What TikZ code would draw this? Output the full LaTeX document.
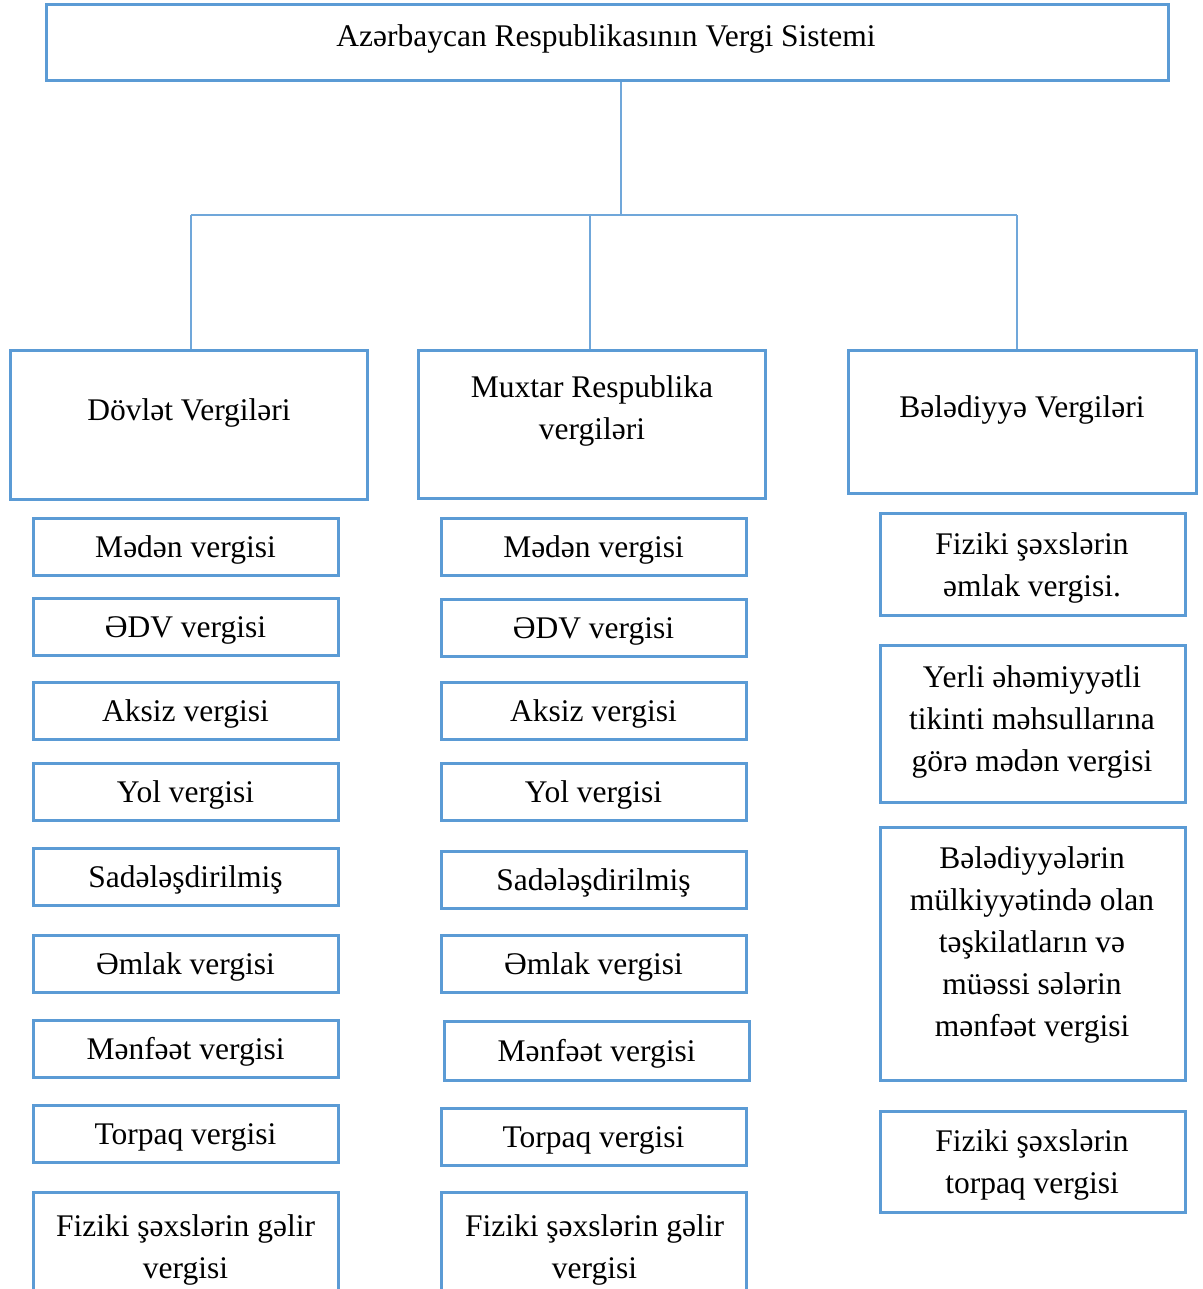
\documentclass[tikz,border=0pt]{standalone}
\usepackage{fontspec}
\setmainfont{Liberation Serif}
\definecolor{boxblue}{HTML}{5B9BD5}
\definecolor{lineblue}{HTML}{70A7DA}
\begin{document}
\begin{tikzpicture}[x=1pt,y=-1pt,
  box/.style={draw=boxblue, line width=3pt, rectangle, inner sep=0pt, align=center,
    text height=27pt, text depth=6pt,
    font=\fontsize{31.5}{42}\selectfont},
  lbl/.style={inner sep=0pt, align=center, font=\fontsize{31.5}{42}\selectfont},
  conn/.style={draw=lineblue, line width=2pt}]
\useasboundingbox (0,0) rectangle (1202,1289);
\clip (0,0) rectangle (1202,1289);
% top
\node[box, minimum width=1122pt, minimum height=76pt] (top) at (607,43) {};
\node[lbl] (toptxt) at (606,39) {Azərbaycan Respublikasının Vergi Sistemi};
% level 2
\node[box, minimum width=357pt, minimum height=149pt] (dov) at (188.5,424.5) {};
\node[lbl] (dovtxt) at (189,413) {Dövlət Vergiləri};
\node[box, minimum width=347pt, minimum height=148pt] (mux) at (591.5,424) {};
\node[lbl] (muxtxt) at (592,411) {Muxtar Respublika\\vergiləri};
\node[box, minimum width=348pt, minimum height=143pt] (bel) at (1022,421.5) {};
\node[lbl] (beltxt) at (1022,410) {Bələdiyyə Vergiləri};
% connectors
\coordinate (j) at (620.7,215.5);
\coordinate (jd) at (191,215.5);
\coordinate (jm) at (589.7,215.5);
\coordinate (jb) at (1017,215.5);
\draw[conn] (j |- top.south) -- (j);
\draw[conn] (jd) -- (jb);
\draw[conn] (jd) -- (jd |- dov.north);
\draw[conn] (jm) -- (jm |- mux.north);
\draw[conn] (jb) -- (jb |- bel.north);
% column 1
\begin{scope}[every node/.style={box, minimum width=305pt, minimum height=57pt}]
\node (a1) at (185.5,546.5) {Mədən vergisi};
\node (a2) at (185.5,627) {ƏDV vergisi};
\node (a3) at (185.5,711) {Aksiz vergisi};
\node (a4) at (185.5,791.5) {Yol vergisi};
\node (a5) at (185.5,877) {Sadələşdirilmiş};
\node (a6) at (185.5,963.5) {Əmlak vergisi};
\node (a7) at (185.5,1048.5) {Mənfəət vergisi};
\node (a8) at (185.5,1134) {Torpaq vergisi};
\node[minimum height=124pt] (a9) at (185.5,1254) {};
% column 2
\node (b1) at (593.5,546.5) {Mədən vergisi};
\node (b2) at (593.5,628) {ƏDV vergisi};
\node (b3) at (593.5,711) {Aksiz vergisi};
\node (b4) at (593.5,791.5) {Yol vergisi};
\node (b5) at (593.5,880) {Sadələşdirilmiş};
\node (b6) at (593.5,964) {Əmlak vergisi};
\node[minimum height=59pt] (b7) at (596.5,1050.5) {Mənfəət vergisi};
\node (b8) at (593.5,1136.5) {Torpaq vergisi};
\node[minimum height=124pt] (b9) at (593.5,1254) {};
% column 3
\node[minimum height=102pt] (c1) at (1032.5,564) {};
\node[minimum height=157pt] (c2) at (1032.5,723.5) {};
\node[minimum height=253pt] (c3) at (1032.5,953.5) {};
\node[minimum height=101pt] (c4) at (1032.5,1161.5) {};
\end{scope}
\node[lbl] (a9t) at (185.5,1250) {Fiziki şəxslərin gəlir\\vergisi};
\node[lbl] (b9t) at (594.5,1250) {Fiziki şəxslərin gəlir\\vergisi};
\node[lbl] (c1t) at (1032,567.5) {Fiziki şəxslərin\\əmlak vergisi.};
\node[lbl] (c2t) at (1032,722) {Yerli əhəmiyyətli\\tikinti məhsullarına\\görə mədən vergisi};
\node[lbl] (c3t) at (1032,944.5) {Bələdiyyələrin\\mülkiyyətində olan\\təşkilatların və\\müəssi sələrin\\mənfəət vergisi};
\node[lbl] (c4t) at (1032,1165) {Fiziki şəxslərin\\torpaq vergisi};
\end{tikzpicture}
\end{document}
